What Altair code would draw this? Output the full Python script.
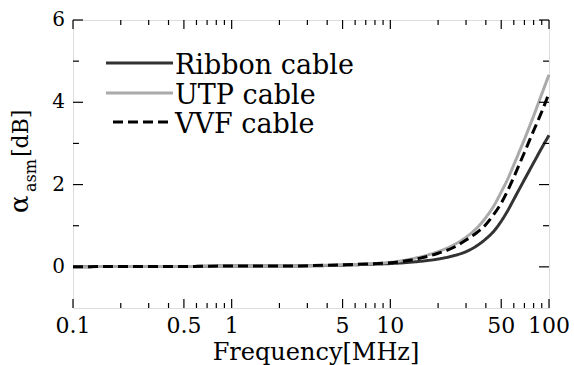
import altair as alt
import pandas as pd

# ---- data ----
freqs = [0.1, 0.2, 0.5, 1, 2, 5, 7, 10, 15, 20, 25, 30, 35, 40, 45, 50, 55, 60, 65, 70, 80, 90, 100]
ribbon = [0.0, 0.01, 0.01, 0.02, 0.02, 0.04, 0.06, 0.08, 0.13, 0.19, 0.27, 0.37, 0.51, 0.68, 0.87, 1.11, 1.37, 1.64, 1.89, 2.12, 2.53, 2.89, 3.2]
utp = [0.0, 0.01, 0.01, 0.02, 0.02, 0.05, 0.07, 0.11, 0.23, 0.37, 0.53, 0.72, 0.94, 1.2, 1.49, 1.82, 2.14, 2.48, 2.8, 3.1, 3.67, 4.2, 4.67]
vvf = [0.0, 0.01, 0.01, 0.02, 0.02, 0.05, 0.07, 0.10, 0.20, 0.33, 0.47, 0.65, 0.83, 1.03, 1.28, 1.55, 1.86, 2.18, 2.49, 2.78, 3.31, 3.77, 4.22]

series_names = ["Ribbon cable", "UTP cable", "VVF cable"]
series_colors = ["#333333", "#aaaaaa", "#000000"]

x_major = [0.1, 0.5, 1, 5, 10, 50, 100]
x_labels = ["0.1", "0.5", "1", "5", "10", "50", "100"]
x_minor = [0.2, 0.3, 0.4, 0.6, 0.7, 0.8, 0.9, 2, 3, 4, 6, 7, 8, 9, 20, 30, 40, 60, 70, 80, 90]
y_major = [0, 2, 4, 6]
y_labels = ["0", "2", "4", "6"]
y_minor = [1, 3, 5]

FONT = "DejaVu Serif"
W, H = 476, 288

xs = alt.Scale(type="log", domain=[0.1, 100], nice=False)
ys = alt.Scale(domain=[-1, 6], nice=False, zero=False)

df = pd.DataFrame({"f": freqs, "Ribbon cable": ribbon, "UTP cable": utp, "VVF cable": vvf})


def curve(name, color, dash=None):
    return alt.Chart(df).mark_line(
        color=color, strokeWidth=3, interpolate="monotone",
        strokeDash=dash if dash else [1, 0]).encode(
        x=alt.X("f:Q", scale=xs, axis=None),
        y=alt.Y(f"{name}:Q", scale=ys, axis=None))


layers = [
    curve("Ribbon cable", series_colors[0]),
    curve("UTP cable", series_colors[1]),
    curve("VVF cable", series_colors[2], dash=[10, 5]),
]

# inward ticks on all four sides
xmaj = pd.DataFrame({"t": x_major, "lab": x_labels})
xmin = pd.DataFrame({"t": x_minor})
ymaj = pd.DataFrame({"t": y_major, "lab": y_labels})
ymin = pd.DataFrame({"t": y_minor})


def xticks(d, y0, y1):
    return alt.Chart(d).mark_rule(color="black", strokeWidth=1.2).encode(
        x=alt.X("t:Q", scale=xs, axis=None), y=alt.value(y0), y2=alt.value(y1))


def yticks(d, x0, x1):
    return alt.Chart(d).mark_rule(color="black", strokeWidth=1.2).encode(
        y=alt.Y("t:Q", scale=ys, axis=None), x=alt.value(x0), x2=alt.value(x1))


layers += [
    xticks(xmaj, H, H - 9), xticks(xmin, H, H - 5),
    xticks(xmaj, 0, 9), xticks(xmin, 0, 5),
    yticks(ymaj, 0, 10), yticks(ymin, 0, 6),
    yticks(ymaj, W, W - 10), yticks(ymin, W, W - 6),
]

# tick labels
layers += [
    alt.Chart(xmaj).mark_text(font=FONT, fontSize=22, align="center", baseline="alphabetic",
                              color="black").encode(
        x=alt.X("t:Q", scale=xs, axis=None), y=alt.value(H + 25), text="lab:N"),
    alt.Chart(ymaj).mark_text(font=FONT, fontSize=20, align="right", baseline="middle",
                              color="black").encode(
        y=alt.Y("t:Q", scale=ys, axis=None), x=alt.value(-8), text="lab:N"),
]

# legend
leg_y = [43, 73, 102]
leg_x0 = [33, 33, 40]
for i, name in enumerate(series_names):
    layers.append(
        alt.Chart(pd.DataFrame({"n": [name]})).mark_rule(
            color=series_colors[i], strokeWidth=3,
            strokeDash=[10, 5] if i == 2 else [1, 0]).encode(
            x=alt.value(leg_x0[i]), x2=alt.value(100), y=alt.value(leg_y[i])))
    layers.append(
        alt.Chart(pd.DataFrame({"n": [name]})).mark_text(
            font=FONT, fontSize=27, align="left", baseline="alphabetic", color="black").encode(
            text="n:N", x=alt.value(102), y=alt.value(leg_y[i] + 11)))


# axis titles
def label(txt, x, y, size, angle=0, align="center"):
    return alt.Chart(pd.DataFrame({"s": [txt]})).mark_text(
        font=FONT, fontSize=size, align=align, baseline="alphabetic", angle=angle,
        color="black").encode(text="s:N", x=alt.value(x), y=alt.value(y))


layers += [
    label("Frequency[MHz]", 243, 340, 24),
    label("α", -45, 193, 26, angle=270, align="left"),
    label("asm", -37, 172, 16, angle=270, align="left"),
    label("[dB]", -45, 137, 22, angle=270, align="left"),
]

chart = alt.layer(*layers).properties(
    width=W, height=H,
    autosize=alt.AutoSizeParams(type="none"),
    padding={"left": 73, "top": 20, "right": 25, "bottom": 57},
).configure_view(stroke="black", strokeWidth=1.5).configure(background="white")

chart.save("out.html", embed_options={"renderer": "svg", "actions": False})
